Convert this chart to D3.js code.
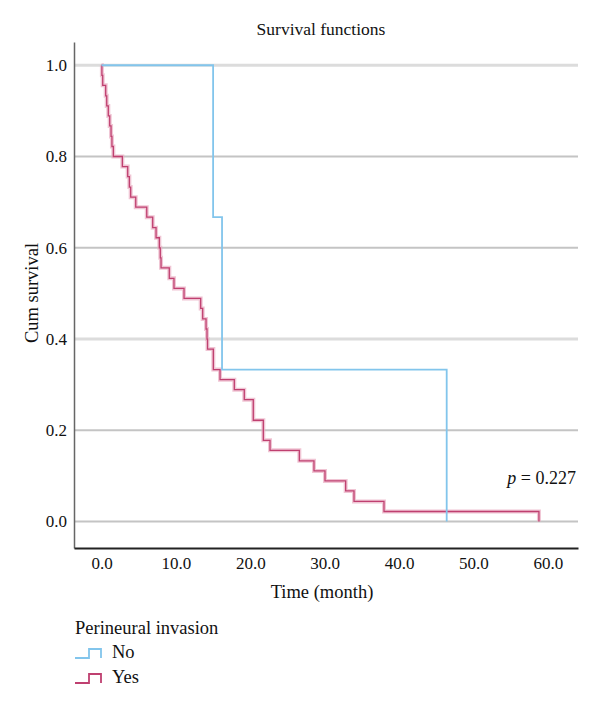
<!DOCTYPE html>
<html>
<head>
<meta charset="utf-8">
<script src="https://cdn.jsdelivr.net/npm/d3@7"></script>
<style>
  body { margin: 0; background: #fff; }
  svg, svg text { font-family: "Liberation Serif", "DejaVu Serif", serif; }
</style>
</head>
<body>
<svg width="600" height="705"></svg>
<script>
// time (month) at which the curve steps, and the survival after the step
const noTimes = [0, 15.0, 16.2, 46.4];
const noSurv = [1.0, 0.667, 0.333, 0.0];

const yesTimes = [0, 0.05, 0.16, 0.56, 0.7, 0.91, 1.1, 1.28, 1.4, 1.59, 2.8, 3.52, 3.74, 3.92, 4.6,
    6.08, 6.88, 7.33, 7.77, 7.9, 8.0, 9.11, 9.74, 11.09, 13.33, 13.6, 14.05, 14.18, 14.25, 15.03,
    15.93, 17.85, 19.19, 20.4, 21.75, 22.65, 26.59, 28.56, 30.04, 32.82, 33.94, 37.97, 58.8];
const yesSurv = [1.0, 0.978, 0.956, 0.933, 0.911, 0.889, 0.867, 0.844, 0.822, 0.8, 0.778, 0.756, 0.733, 0.711, 0.689,
    0.667, 0.644, 0.622, 0.6, 0.578, 0.556, 0.533, 0.511, 0.489, 0.467, 0.444, 0.422, 0.4, 0.378, 0.333,
    0.311, 0.289, 0.267, 0.222, 0.178, 0.156, 0.133, 0.111, 0.089, 0.067, 0.044, 0.022, 0.0];

const xTicks = [0, 10, 20, 30, 40, 50, 60];
const yTicks = [0, 0.2, 0.4, 0.6, 0.8, 1.0];

const groups = ['No', 'Yes'];
const colors = {No: '#82c5ec', Yes: '#bf4070'};

function drawChart() {
    const svg = d3.select('svg');
    const font = 'Liberation Serif, DejaVu Serif, serif';

    const left = 74;
    const right = 578;
    const top = 42;
    const bottom = 548;

    const x = d3.scaleLinear().domain([-3.7, 64.05]).range([left, right]);
    const y = d3.scaleLinear().domain([-0.058, 1.051]).range([bottom, top]);

    // grid lines
    svg.append('g')
       .selectAll('line')
       .data(yTicks)
       .join('line')
       .attr('x1', left)
       .attr('x2', right)
       .attr('y1', d => y(d))
       .attr('y2', d => y(d))
       .attr('stroke', d => (d === 1.0 || d === 0.4) ? '#dcdcdc' : '#c4c4c4')
       .attr('stroke-width', d => (d === 1.0 || d === 0.4) ? 3 : 2);

    // y axis
    const yAxis = d3.axisLeft(y)
                    .tickValues(yTicks)
                    .tickFormat(d3.format('.1f'))
                    .tickSize(0)
                    .tickPadding(7);
    const gy = svg.append('g')
                  .attr('transform', `translate(${left},0)`)
                  .call(yAxis);
    gy.select('.domain').attr('stroke', '#666').attr('stroke-width', 1.5);
    gy.selectAll('text')
      .style('font-family', font)
      .style('font-size', '17px')
      .attr('fill', '#111');

    // x axis
    const xAxis = d3.axisBottom(x)
                    .tickValues(xTicks)
                    .tickFormat(d3.format('.1f'))
                    .tickSize(0)
                    .tickPadding(9);
    const gx = svg.append('g')
                  .attr('transform', `translate(0,${bottom})`)
                  .call(xAxis);
    gx.select('.domain').attr('stroke', '#222').attr('stroke-width', 2);
    gx.selectAll('text')
      .style('font-family', font)
      .style('font-size', '17px')
      .attr('fill', '#111');

    // curves
    const line = d3.line()
                   .x(d => x(d.t))
                   .y(d => y(d.s))
                   .curve(d3.curveStepAfter);

    const yesData = yesTimes.map((t, i) => ({t: t, s: yesSurv[i]}));
    const noData = noTimes.map((t, i) => ({t: t, s: noSurv[i]}));

    svg.append('path')
       .attr('d', line(yesData))
       .attr('fill', 'none')
       .attr('stroke', '#e9adc2')
       .attr('stroke-opacity', 0.7)
       .attr('stroke-width', 4);
    svg.append('path')
       .attr('d', line(yesData))
       .attr('fill', 'none')
       .attr('stroke', colors.Yes)
       .attr('stroke-width', 1.3);

    svg.append('path')
       .attr('d', line(noData))
       .attr('fill', 'none')
       .attr('stroke', colors.No)
       .attr('stroke-width', 1.8);

    // texts
    svg.append('text')
       .attr('x', 321)
       .attr('y', 35)
       .attr('text-anchor', 'middle')
       .attr('font-size', 17.5)
       .attr('fill', '#111')
       .text('Survival functions');

    svg.append('text')
       .attr('x', 322)
       .attr('y', 598)
       .attr('text-anchor', 'middle')
       .attr('font-size', 18.5)
       .attr('fill', '#111')
       .text('Time (month)');

    svg.append('text')
       .attr('transform', 'translate(38,293) rotate(-90)')
       .attr('text-anchor', 'middle')
       .attr('font-size', 18.5)
       .attr('fill', '#111')
       .text('Cum survival');

    const pText = svg.append('text')
                     .attr('x', 576)
                     .attr('y', 484)
                     .attr('text-anchor', 'end')
                     .attr('font-size', 18)
                     .attr('fill', '#111');
    pText.append('tspan').attr('font-style', 'italic').text('p');
    pText.append('tspan').text(' = 0.227');

    // legend
    svg.append('text')
       .attr('x', 75)
       .attr('y', 634)
       .attr('font-size', 18.5)
       .attr('fill', '#111')
       .text('Perineural invasion');

    const legend = svg.append('g')
                      .selectAll('g')
                      .data(groups)
                      .join('g')
                      .attr('transform', (d, i) => `translate(75,${658 + i * 25})`);

    legend.append('path')
          .attr('d', 'M0,0 H14 V-9 H26 V0')
          .attr('fill', 'none')
          .attr('stroke', d => colors[d])
          .attr('stroke-width', 1.8);

    legend.append('text')
          .attr('x', 37)
          .attr('y', 0)
          .attr('font-size', 18.5)
          .attr('fill', '#111')
          .text(d => d);
}

drawChart();
</script>
</body>
</html>
